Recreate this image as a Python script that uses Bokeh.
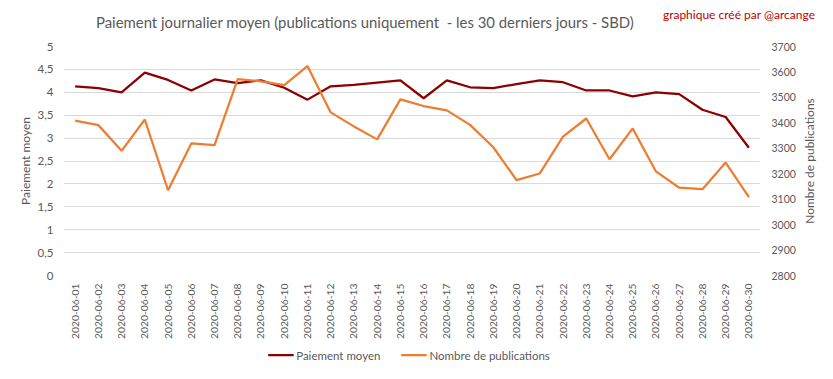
from bokeh.plotting import figure
from bokeh.layouts import column, row
from bokeh.models import (Range1d, LinearAxis, FixedTicker, CustomJSTickFormatter,
                          Legend, LegendItem, Label, ColumnDataSource, Div)
from bokeh.embed import file_html
from bokeh.resources import INLINE
import math

dates = ["2020-06-%02d" % d for d in range(1, 31)]
paiement = [4.13, 4.09, 4.00, 4.43, 4.27, 4.04, 4.28, 4.20, 4.26, 4.10,
            3.84, 4.13, 4.16, 4.21, 4.26, 3.87, 4.26, 4.11, 4.09, 4.18,
            4.26, 4.22, 4.04, 4.04, 3.91, 4.00, 3.96, 3.62, 3.46, 2.79]
publications = [3409, 3391, 3290, 3413, 3135, 3319, 3312, 3572, 3563, 3548,
                3623, 3441, 3386, 3335, 3492, 3466, 3449, 3392, 3304, 3175,
                3201, 3346, 3417, 3257, 3378, 3209, 3145, 3139, 3244, 3108]
left_ticks = [0, 0.5, 1, 1.5, 2, 2.5, 3, 3.5, 4, 4.5, 5]
right_ticks = [2800, 2900, 3000, 3100, 3200, 3300, 3400, 3500, 3600, 3700]
series_names = ["Paiement moyen", "Nombre de publications"]
title_text = "Paiement journalier moyen (publications uniquement  - les 30 derniers jours - SBD)"
credit_text = "graphique créé par @arcange"

FONT = "Lato"
GRAY = "#595959"
RED = "#8B0000"
ORANGE = "#ED7D31"
W = 817

# ---------- title strip ----------
head = Div(width=W, height=40, margin=0, text=(
    '<div style="position:relative;width:%dpx;height:40px;font-family:Lato;">'
    '<span style="position:absolute;left:96px;top:13px;font-size:14.9px;line-height:18px;'
    'color:%s;white-space:pre;">%s</span>'
    '<span style="position:absolute;right:2px;top:7px;font-size:12px;line-height:16px;'
    'color:#C00000;white-space:nowrap;">%s</span></div>'
) % (W, GRAY, title_text, credit_text))

# ---------- main chart ----------
src = ColumnDataSource(dict(d=dates, p=paiement, n=publications))

p = figure(x_range=dates, width=800, height=306, output_backend="svg",
           toolbar_location=None, min_border_left=63, min_border_right=40,
           min_border_top=6, min_border_bottom=71)
p.title.visible = False
p.y_range = Range1d(0, 5)
p.extra_y_ranges = {"pub": Range1d(2800, 3700)}
p.outline_line_color = None

p.xgrid.grid_line_color = None
p.ygrid.grid_line_color = "#d9d9d9"
p.ygrid.grid_line_width = 1
p.ygrid.ticker = FixedTicker(ticks=left_ticks)

ya = p.yaxis[0]
ya.ticker = FixedTicker(ticks=left_ticks)
ya.formatter = CustomJSTickFormatter(code="return tick.toString().replace('.', ',');")
ya.axis_label = series_names[0]
ya.axis_line_color = None
ya.major_tick_line_color = None
ya.minor_tick_line_color = None
ya.major_tick_out = 0
ya.major_tick_in = 0
ya.major_label_standoff = 10
ya.axis_label_standoff = 2
ya.major_label_text_color = GRAY
ya.major_label_text_font = FONT
ya.major_label_text_font_size = "11.5px"
ya.axis_label_text_color = GRAY
ya.axis_label_text_font = FONT
ya.axis_label_text_font_size = "12px"
ya.axis_label_text_font_style = "normal"

ra = LinearAxis(y_range_name="pub", ticker=FixedTicker(ticks=right_ticks))
ra.axis_line_color = None
ra.major_tick_line_color = None
ra.minor_tick_line_color = None
ra.major_tick_out = 0
ra.major_tick_in = 0
ra.major_label_standoff = 11
ra.major_label_text_color = GRAY
ra.major_label_text_font = FONT
ra.major_label_text_font_size = "10.5px"
p.add_layout(ra, "right")

xa = p.xaxis[0]
xa.major_label_orientation = math.pi / 2
xa.axis_line_color = None
xa.major_tick_line_color = None
xa.minor_tick_line_color = None
xa.major_tick_out = 0
xa.major_tick_in = 0
xa.major_label_standoff = 8
xa.major_label_text_color = GRAY
xa.major_label_text_font = FONT
xa.major_label_text_font_size = "10.3px"

p.line("d", "p", source=src, line_color=RED, line_width=2.25)
p.line("d", "n", source=src, y_range_name="pub", line_color=ORANGE, line_width=2.25)

# ---------- right axis title strip ----------
pr = figure(width=17, height=306, x_range=Range1d(0, 1), y_range=Range1d(0, 1),
            x_axis_type=None, y_axis_type=None, output_backend="svg",
            toolbar_location=None, min_border_left=0, min_border_right=0,
            min_border_top=6, min_border_bottom=71)
pr.title.visible = False
pr.outline_line_color = None
pr.add_layout(Label(x=0.5, y=0.5, text=series_names[1], angle=math.pi / 2,
                    text_align="center", text_baseline="middle", text_font=FONT,
                    text_font_size="12px", text_color=GRAY))

# ---------- legend strip ----------
pl = figure(width=W, height=17, x_range=Range1d(0, 1), y_range=Range1d(-1, 0),
            x_axis_type=None, y_axis_type=None, output_backend="svg",
            toolbar_location=None, min_border=0)
pl.title.visible = False
pl.outline_line_color = None
idx = list(range(len(dates)))
l1 = pl.line(x=idx, y=paiement, line_color=RED, line_width=2.25)
l2 = pl.line(x=idx, y=publications, line_color=ORANGE, line_width=2.25)
legend = Legend(items=[LegendItem(label=series_names[0], renderers=[l1]),
                       LegendItem(label=series_names[1], renderers=[l2])],
                orientation="horizontal", location="center")
legend.border_line_color = None
legend.background_fill_alpha = 0
legend.padding = 0
legend.margin = 0
legend.spacing = 20
legend.glyph_width = 26
legend.glyph_height = 12
legend.label_height = 12
legend.label_standoff = 3
legend.label_text_font = FONT
legend.label_text_font_size = "11.5px"
legend.label_text_color = GRAY
pl.add_layout(legend, "center")

layout = column(head, row(p, pr, spacing=0), pl, spacing=0)
open("out.html", "w").write(file_html(layout, INLINE))
